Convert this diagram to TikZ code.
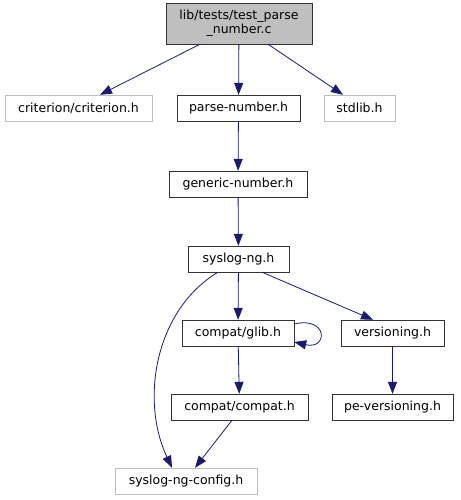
\documentclass[tikz,border=0pt]{standalone}
\usepackage{fontspec}
\setmainfont{DejaVu Sans}
\usepackage{xcolor}
\usetikzlibrary{arrows.meta,positioning,calc}
\definecolor{edgeblue}{HTML}{191970}
\definecolor{doxgray}{HTML}{BFBFBF}

\begin{document}
\begin{tikzpicture}[
  x=1pt, y=-1pt,
  hdr/.style={draw=black!80, align=center, font=\fontsize{12.5}{14}\selectfont, minimum height=26pt, inner xsep=3pt, inner ysep=2pt, fill=white},
  ext/.style={hdr, draw=doxgray},
  root/.style={hdr, fill=doxgray, draw=black!80, minimum height=41pt},
  edge/.style={-{Triangle[length=12pt, width=9pt]}, line width=0.8pt, draw=edgeblue}]
\useasboundingbox (0,0) rectangle (460,500);
% first rows
\node[root, minimum width=146pt] (src) at (239,23.5) {lib/tests/test\_parse\\\_number.c};
\node[ext, minimum width=147pt] (crit) at (78.5,108) {criterion/criterion.h};
\node[hdr, minimum width=123pt] (parse) at (238.5,108) {parse-number.h};
\node[ext, minimum width=71pt] (stdl) at (359.5,108) {stdlib.h};
\node[hdr, minimum width=138pt] (gen) at (238,184) {generic-number.h};
\node[hdr, minimum width=101pt] (sng) at (238.5,259) {syslog-ng.h};
% lower rows
\node[hdr, minimum width=112pt] (glib) at (238,333) {compat/glib.h};
\node[hdr, minimum width=103pt] (ver) at (392.5,333) {versioning.h};
\node[hdr, minimum width=137pt] (compat) at (239.5,407) {compat/compat.h};
\node[hdr, minimum width=121pt] (pever) at (392.5,407) {pe-versioning.h};
\node[ext, minimum width=142pt] (cfg) at (186,481) {syslog-ng-config.h};
% includes
\draw[edge] (src.south -| 200,0) -- (crit.north -| 100,0);
\draw[edge] (src) -- (parse);
\draw[edge] (src.south -| 268,0) -- (stdl.north -| 343,0);
\draw[edge] (parse) -- (gen);
\draw[edge] (gen) -- (sng);
\draw[edge] (sng) -- (glib);
\draw[edge] (sng.south -| 262,0) -- (ver.north -| 373,0);
\draw[edge] (sng.south -| 218,0) .. controls (155,310) and (140,400) .. (cfg.north -| 172,0);
\draw[edge] ([yshift=9pt]glib.east) .. controls +(34pt,8pt) and +(34pt,-8pt) .. ([yshift=-9pt]glib.east);
\draw[edge] (ver) -- (pever);
\draw[edge] (glib) -- (compat);
\draw[edge] (compat.south -| 232,0) -- (cfg.north -| 195,0);
\end{tikzpicture}
\end{document}
